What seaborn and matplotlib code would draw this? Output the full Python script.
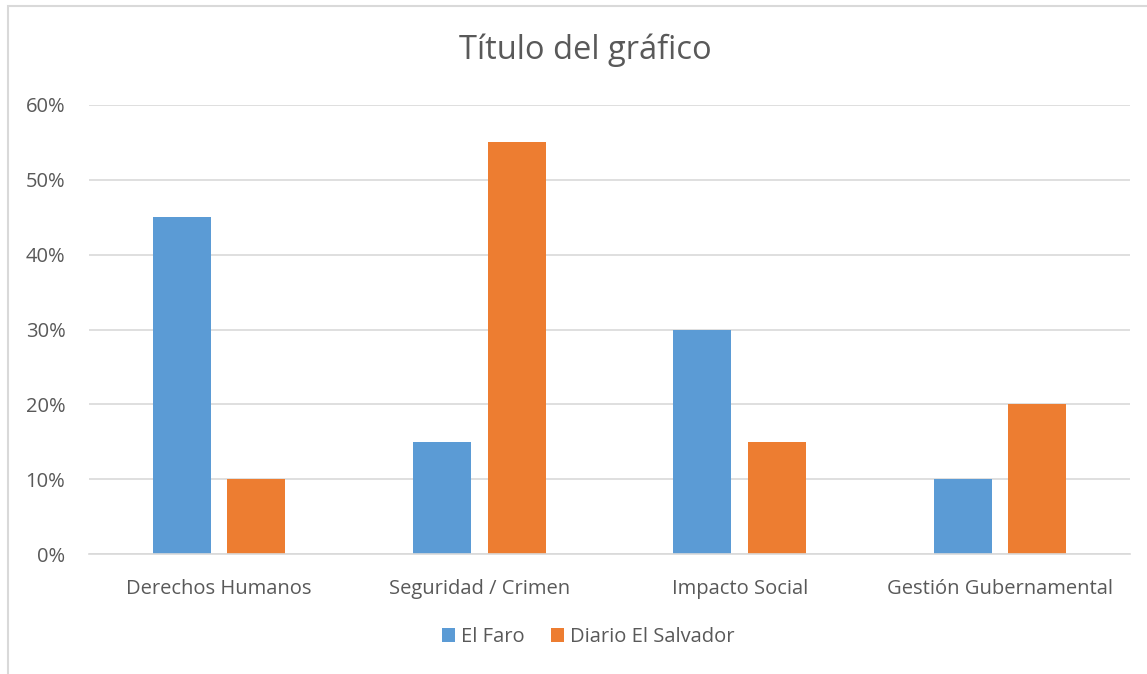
import matplotlib
matplotlib.use("Agg")
import matplotlib.pyplot as plt
import seaborn as sns
import pandas as pd
from matplotlib.patches import Rectangle, Patch
from matplotlib.ticker import PercentFormatter

categories = ["Derechos Humanos", "Seguridad / Crimen", "Impacto Social", "Gestión Gubernamental"]
series_names = ["El Faro", "Diario El Salvador"]
el_faro = [0.45, 0.15, 0.30, 0.10]
diario = [0.10, 0.55, 0.15, 0.20]
colors = ["#5B9BD5", "#ED7D31"]
title = "Título del gráfico"

df = pd.DataFrame({
    "cat": categories * 2,
    "serie": [series_names[0]] * 4 + [series_names[1]] * 4,
    "val": el_faro + diario,
})

sns.set_theme(style="white")
plt.rcParams["font.family"] = ["Open Sans", "DejaVu Sans"]
txt = "#595959"
grid = "#D9D9D9"
fs = 14.5

fig = plt.figure(figsize=(11.47, 6.74), dpi=100)
ax = fig.add_axes([89/1147, 1-554/674, (1130-89)/1147, (554-105)/674])
sns.barplot(data=df, x="cat", y="val", hue="serie", palette=colors, ax=ax,
            width=0.573, gap=0.222, saturation=1, legend=False, linewidth=0, edgecolor="none")
ax.set_ylim(0, 0.6)
ax.set_xlim(-0.5, 3.5)
ax.set_yticks([0, 0.1, 0.2, 0.3, 0.4, 0.5, 0.6])
ax.yaxis.set_major_formatter(PercentFormatter(1.0, decimals=0))
ax.grid(axis="y", color=grid, linewidth=1.2)
ax.set_axisbelow(True)
for s in ["top", "right", "left"]:
    ax.spines[s].set_visible(False)
ax.spines["bottom"].set_color(grid)
ax.spines["bottom"].set_linewidth(1.2)
ax.tick_params(axis="y", length=0, pad=17, labelsize=fs, labelcolor=txt)
ax.tick_params(axis="x", length=0, pad=18, labelsize=fs, labelcolor=txt)
ax.set_xlabel("")
ax.set_ylabel("")

fig.text(585/1147, 1-50/674, title, ha="center", va="center", fontsize=23.5, color=txt)

handles = [Patch(facecolor=c, edgecolor="none", label=n) for c, n in zip(colors, series_names)]
fig.legend(handles=handles, loc="center", bbox_to_anchor=(588/1147, 1-637/674), ncol=2,
           frameon=False, fontsize=fs, labelcolor=txt, handlelength=0.65, handleheight=0.65,
           handletextpad=0.3, columnspacing=1.3)

fig.patches.append(Rectangle((8/1147, -0.1), 1.2, 1-6/674+0.1, transform=fig.transFigure,
                             fill=False, edgecolor=grid, linewidth=1.5))

fig.savefig("out.png", dpi=100)
